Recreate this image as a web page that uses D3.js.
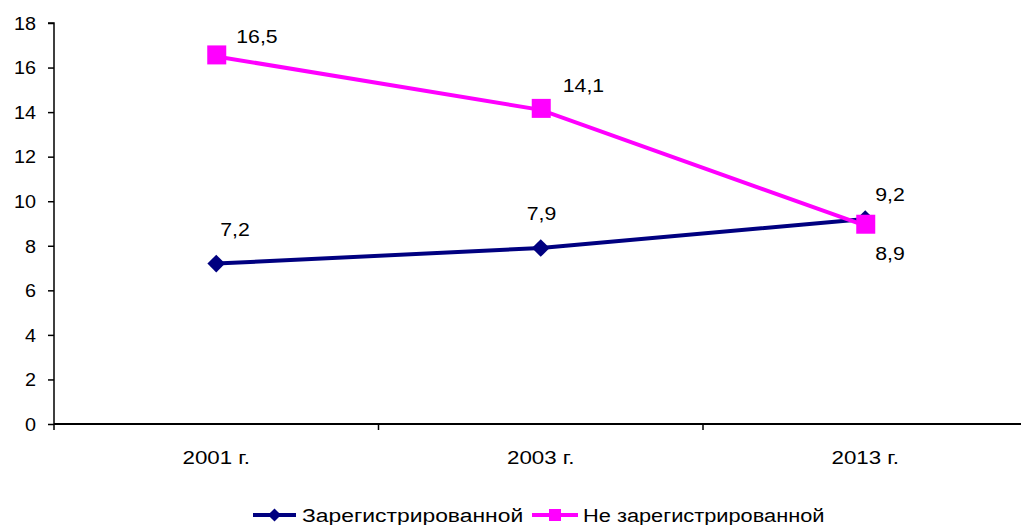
<!DOCTYPE html>
<html>
<head>
<meta charset="utf-8">
<script src="https://cdn.jsdelivr.net/npm/d3@7"></script>
<style>
  body { margin: 0; background: #fff; }
  svg text { font-family: "Liberation Sans", Arial, sans-serif; font-size: 18px; fill: #000; }
</style>
</head>
<body>
<svg id="chart" width="1021" height="525"></svg>
<script>
// data
const years = ['2001 г.', '2003 г.', '2013 г.'];
const registered = [7.2, 7.9, 9.2];
const unregistered = [16.5, 14.1, 8.9];
const seriesNames = ['Зарегистрированной', 'Не зарегистрированной'];
const yTicks = [0, 2, 4, 6, 8, 10, 12, 14, 16, 18];

// label offsets (style only)
const regLabelOff = [[4, -28], [-14, -28], [10, -18]];
const unregLabelOff = [[20, -13], [22, -18], [10, 34]];

const svg = d3.select('#chart');
const plotLeft = 54, plotRight = 1027.5, plotTop = 23, plotBottom = 424;

// the original text is a bit wider than Liberation Sans
function stretch(sel, k) {
  sel.each(function () {
    const w = this.getComputedTextLength();
    d3.select(this).attr('textLength', w * k).attr('lengthAdjust', 'spacingAndGlyphs');
  });
}

const x = d3.scaleBand().domain(years).range([plotLeft, plotRight]);
const y = d3.scaleLinear().domain([0, 18]).range([plotBottom, plotTop]);

// y axis
const yAxis = svg.append('g').attr('transform', `translate(${plotLeft},0)`)
  .call(d3.axisLeft(y).tickValues(yTicks).tickSize(6).tickPadding(12).tickFormat(d3.format('d')));
yAxis.select('.domain').attr('stroke', '#000').attr('stroke-width', 1.5).attr('d', `M-6,${plotTop}H0V${plotBottom}`);
yAxis.selectAll('.tick line').attr('stroke', '#000').attr('stroke-width', 1.5);
yAxis.selectAll('text').style('font-size', '18px').attr('dy', '0.35em').call(stretch, 1.1);

// x axis
const xAxis = svg.append('g').attr('transform', `translate(0,${plotBottom})`)
  .call(d3.axisBottom(x).tickSize(0).tickPadding(27));
xAxis.select('.domain').attr('stroke', '#000').attr('stroke-width', 2).attr('d', `M${plotLeft},0H${plotRight}`);
xAxis.selectAll('text').style('font-size', '18px').call(stretch, 1.24);
// category boundary ticks
const bounds = years.map(d => x(d)).concat([x(years[2]) + x.bandwidth()]);
xAxis.selectAll('.bt').data(bounds).join('line').attr('class', 'bt')
  .attr('x1', d => d).attr('x2', d => d).attr('y1', 0).attr('y2', 6)
  .attr('stroke', '#000').attr('stroke-width', 1.5);

const cx = d => x(d) + x.bandwidth() / 2;
const line = d3.line().x((d, i) => cx(years[i])).y(d => y(d));

const diamond = d3.symbol().type(d3.symbolDiamond2).size(200);

function drawSeries(vals, color, marker, offs) {
  const g = svg.append('g');
  g.append('path').attr('d', line(vals)).attr('fill', 'none')
    .attr('stroke', color).attr('stroke-width', 4);
  if (marker === 'diamond') {
    g.selectAll('path.m').data(vals).join('path').attr('class', 'm')
      .attr('d', diamond)
      .attr('transform', (d, i) => `translate(${cx(years[i])},${y(d)})`)
      .attr('fill', color);
  } else {
    g.selectAll('rect').data(vals).join('rect')
      .attr('x', (d, i) => cx(years[i]) - 9).attr('y', d => y(d) - 11)
      .attr('width', 19).attr('height', 19).attr('fill', color);
  }
  g.selectAll('text').data(vals).join('text')
    .attr('x', (d, i) => cx(years[i]) + offs[i][0])
    .attr('y', (d, i) => y(d) + offs[i][1])
    .text(d => String(d).replace('.', ','))
    .call(stretch, 1.18);
}

drawSeries(registered, '#000080', 'diamond', regLabelOff);
drawSeries(unregistered, '#FF00FF', 'square', unregLabelOff);

// legend
const leg = svg.append('g').attr('transform', 'translate(253,515)');
leg.append('line').attr('x1', 0).attr('x2', 43).attr('stroke', '#000080').attr('stroke-width', 4);
leg.append('path').attr('d', d3.symbol().type(d3.symbolDiamond2).size(110)).attr('transform', 'translate(21.5,0)').attr('fill', '#000080');
leg.append('text').attr('x', 49).attr('y', 7).text(seriesNames[0]).call(stretch, 1.27);
leg.append('line').attr('x1', 279).attr('x2', 325).attr('stroke', '#FF00FF').attr('stroke-width', 4);
leg.append('rect').attr('x', 296).attr('y', -6).attr('width', 12).attr('height', 12).attr('fill', '#FF00FF');
leg.append('text').attr('x', 330).attr('y', 7).text(seriesNames[1]).call(stretch, 1.21);
</script>
</body>
</html>
